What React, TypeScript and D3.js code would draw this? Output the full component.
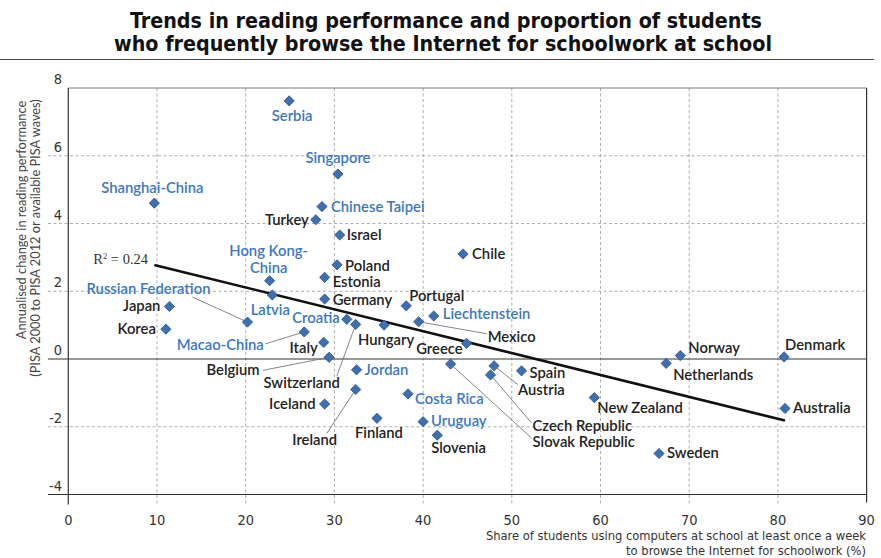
import { useMemo } from 'react';
import * as d3 from 'd3';

// Share of students browsing the Internet for schoolwork at school (%), and
// annualised change in reading performance (score points per year)
const countries = [
  'Serbia', 'Singapore', 'Shanghai-China', 'Chinese Taipei', 'Turkey', 'Israel', 'Poland',
  'Hong Kong-China', 'Estonia', 'Latvia', 'Germany', 'Portugal', 'Liechtenstein', 'Chile',
  'Russian Federation', 'Japan', 'Korea', 'Macao-China', 'Croatia', 'Italy', 'Belgium',
  'Switzerland', 'Hungary', 'Jordan', 'Ireland', 'Iceland', 'Costa Rica', 'Finland',
  'Uruguay', 'Slovenia', 'Greece', 'Mexico', 'Slovak Republic', 'Austria', 'Czech Republic',
  'Spain', 'New Zealand', 'Netherlands', 'Norway', 'Denmark', 'Australia', 'Sweden'
];
const shareBrowsing = [
  24.9, 30.4, 9.7, 28.6, 27.9, 30.6, 30.3,
  22.7, 28.9, 23.0, 28.9, 38.1, 41.2, 44.5,
  20.2, 11.4, 11.0, 26.6, 31.4, 28.8, 29.4,
  32.4, 35.6, 32.5, 32.4, 28.9, 38.3, 34.8,
  40.0, 41.6, 44.9, 39.5, 43.1, 48.0, 47.6,
  51.1, 59.3, 67.4, 69.0, 80.7, 80.8, 66.6
];
const readingChange = [
  7.62, 5.46, 4.60, 4.50, 4.11, 3.66, 2.78,
  2.31, 2.41, 1.89, 1.77, 1.57, 1.27, 3.10,
  1.09, 1.55, 0.88, 0.80, 1.17, 0.49, 0.05,
  1.02, 1.00, -0.32, -0.90, -1.33, -1.03, -1.75,
  -1.85, -2.25, 0.46, 1.10, -0.15, -0.20, -0.47,
  -0.35, -1.14, -0.13, 0.10, 0.06, -1.46, -2.79
];
const partners = [
  'Serbia', 'Singapore', 'Shanghai-China', 'Chinese Taipei', 'Hong Kong-China', 'Latvia',
  'Liechtenstein', 'Russian Federation', 'Macao-China', 'Croatia', 'Jordan', 'Costa Rica', 'Uruguay'
];
const xTicks = [0, 10, 20, 30, 40, 50, 60, 70, 80, 90];
const yTicks = [-4, -2, 0, 2, 4, 6, 8];
const rSquaredText = '0.24';

// label placement: offset of text from point, anchor, optional leader end (relative to point)
type LabelPos = { dx: number; dy: number; anchor: string; leader?: [number, number]; lines?: string[] };
const labelPos: Record<string, LabelPos> = {
  'Serbia': { dx: 3, dy: 20, anchor: 'middle' },
  'Singapore': { dx: 0, dy: -11, anchor: 'middle' },
  'Shanghai-China': { dx: -2, dy: -10, anchor: 'middle' },
  'Chinese Taipei': { dx: 9, dy: 5, anchor: 'start' },
  'Turkey': { dx: -7, dy: 5, anchor: 'end' },
  'Israel': { dx: 7, dy: 5, anchor: 'start' },
  'Poland': { dx: 8, dy: 6, anchor: 'start' },
  'Hong Kong-China': { dx: -1, dy: -25, anchor: 'middle', lines: ['Hong Kong-', 'China'] },
  'Estonia': { dx: 8, dy: 10, anchor: 'start' },
  'Latvia': { dx: -2, dy: 20, anchor: 'middle' },
  'Germany': { dx: 8, dy: 6, anchor: 'start' },
  'Portugal': { dx: 3, dy: -5, anchor: 'start' },
  'Liechtenstein': { dx: 9, dy: 3, anchor: 'start' },
  'Chile': { dx: 9, dy: 5, anchor: 'start' },
  'Russian Federation': { dx: -99, dy: -28, anchor: 'middle', leader: [-55, -25] },
  'Japan': { dx: -9, dy: 5, anchor: 'end' },
  'Korea': { dx: -10, dy: 5, anchor: 'end' },
  'Macao-China': { dx: -84, dy: 18, anchor: 'middle', leader: [-39, 12] },
  'Croatia': { dx: -7, dy: 4, anchor: 'end' },
  'Italy': { dx: -6, dy: 11, anchor: 'end' },
  'Belgium': { dx: -96, dy: 18, anchor: 'middle', leader: [-66, 13] },
  'Switzerland': { dx: -54, dy: 64, anchor: 'middle', leader: [-19, 52] },
  'Hungary': { dx: 2, dy: 20, anchor: 'middle' },
  'Jordan': { dx: 8, dy: 5, anchor: 'start' },
  'Ireland': { dx: -41, dy: 56, anchor: 'middle', leader: [-29, 44] },
  'Iceland': { dx: -9, dy: 5, anchor: 'end' },
  'Costa Rica': { dx: 7, dy: 10, anchor: 'start' },
  'Finland': { dx: 2, dy: 20, anchor: 'middle' },
  'Uruguay': { dx: 8, dy: 4, anchor: 'start' },
  'Slovenia': { dx: -6, dy: 18, anchor: 'start' },
  'Greece': { dx: -4, dy: 11, anchor: 'end' },
  'Mexico': { dx: 69, dy: 20, anchor: 'start', leader: [68, 12] },
  'Slovak Republic': { dx: 82, dy: 83, anchor: 'start', leader: [81, 74] },
  'Austria': { dx: 24, dy: 29, anchor: 'start', leader: [24, 19] },
  'Czech Republic': { dx: 42, dy: 56, anchor: 'start', leader: [41, 48] },
  'Spain': { dx: 8, dy: 7, anchor: 'start' },
  'New Zealand': { dx: 3, dy: 15, anchor: 'start' },
  'Netherlands': { dx: 7, dy: 17, anchor: 'start' },
  'Norway': { dx: 8, dy: -3, anchor: 'start' },
  'Denmark': { dx: 1, dy: -7, anchor: 'start' },
  'Australia': { dx: 8, dy: 5, anchor: 'start' },
  'Sweden': { dx: 8, dy: 4, anchor: 'start' },
};

const W = 881;
const H = 558;
const BLUE = '#3b78c0';
const DARK = '#222';
const LABEL_FONT = "Lato, 'Open Sans', sans-serif";
const NARROW = "'Liberation Sans Narrow', 'DejaVu Sans Condensed', sans-serif";

export default function App() {
  const x = d3.scaleLinear().domain([0, 90]).range([68.3, 866.6]);
  const y = d3.scaleLinear().domain([-4, 8]).range([494.5, 88]);

  const points = countries.map((name, i) => ({
    name,
    x: shareBrowsing[i],
    y: readingChange[i],
    partner: partners.includes(name),
  }));

  // least squares trend
  const trend = useMemo(() => {
    const mx = d3.mean(shareBrowsing)!;
    const my = d3.mean(readingChange)!;
    let sxy = 0;
    let sxx = 0;
    shareBrowsing.forEach((v, i) => {
      sxy += (v - mx) * (readingChange[i] - my);
      sxx += (v - mx) * (v - mx);
    });
    const b = sxy / sxx;
    const a = my - b * mx;
    const [x0, x1] = d3.extent(shareBrowsing) as [number, number];
    return [[x0, a + b * x0], [x1, a + b * x1]];
  }, []);

  const diamond = d3.symbol().type(d3.symbolSquare).size(52)()!;
  const left = x(0);
  const right = x(90);
  const top = y(8);
  const bottom = y(-4);

  return (
    <svg width={W} height={H} style={{ position: 'absolute', left: 0, top: 0, background: '#fff' }}>
      {/* title */}
      <g fontFamily={NARROW} fontWeight="bold" fontSize={21.3} fill="#111" textAnchor="middle">
        <text x={446} y={28}>Trends in reading performance and proportion of students</text>
        <text x={443} y={51}>who frequently browse the Internet for schoolwork at school</text>
      </g>
      <line x1={0} x2={874} y1={59.5} y2={59.5} stroke="#444" strokeWidth={1} />

      {/* grid */}
      {yTicks.filter(t => t !== 0 && t !== 8 && t !== -4).map(t => (
        <line key={'gy' + t} x1={48} x2={right} y1={y(t)} y2={y(t)}
          stroke="#999" strokeWidth={0.8} strokeDasharray="3,2.5" />
      ))}
      {xTicks.filter(t => t !== 0 && t !== 90).map(t => (
        <line key={'gx' + t} x1={x(t)} x2={x(t)} y1={top} y2={bottom + 10}
          stroke="#999" strokeWidth={0.8} strokeDasharray="3,2.5" />
      ))}
      <line x1={left} x2={right} y1={top} y2={top} stroke="#777" strokeWidth={1} />
      <line x1={48} x2={right} y1={y(0)} y2={y(0)} stroke="#333" strokeWidth={1.2} />
      <line x1={48} x2={right} y1={bottom} y2={bottom} stroke="#333" strokeWidth={1.2} />
      <line x1={left} x2={left} y1={top} y2={bottom + 10} stroke="#333" strokeWidth={1.2} />
      <line x1={right} x2={right} y1={top} y2={bottom + 8} stroke="#333" strokeWidth={1.2} />

      {/* y ticks */}
      <g fontFamily={NARROW} fontSize={14.5} fill="#333" textAnchor="end">
        {yTicks.map(t => (
          <text key={'ty' + t} x={62} y={y(t) - 4}>{t}</text>
        ))}
      </g>
      {/* x ticks */}
      <g fontFamily={NARROW} fontSize={14.5} fill="#333" textAnchor="middle">
        {xTicks.map(t => (
          <text key={'tx' + t} x={x(t)} y={525}>{t}</text>
        ))}
      </g>

      {/* axis titles */}
      <g fontFamily={LABEL_FONT} fontSize={12.8} fill="#444" textAnchor="middle">
        <text transform="translate(26,220) rotate(-90)">Annualised change in reading performance</text>
        <text transform="translate(40,238) rotate(-90)">(PISA 2000 to PISA 2012 or available PISA waves)</text>
      </g>
      <g fontFamily={NARROW} fontSize={12.8} fill="#333" textAnchor="end">
        <text x={866} y={540}>Share of students using computers at school at least once a week</text>
        <text x={866} y={555}>to browse the Internet for schoolwork (%)</text>
      </g>

      {/* trend line */}
      <line x1={x(trend[0][0])} y1={y(trend[0][1])} x2={x(trend[1][0])} y2={y(trend[1][1])}
        stroke="#111" strokeWidth={2.6} />
      <text x={148} y={y(trend[0][1]) - 1} textAnchor="end" fontFamily="'Liberation Serif', serif"
        fontSize={14.5} fill="#333">
        R<tspan dy={-5} fontSize={8.5}>2</tspan><tspan dy={5}> = {rSquaredText}</tspan>
      </text>

      {/* leaders */}
      {points.map(p => {
        const lp = labelPos[p.name];
        if (!lp || !lp.leader) return null;
        return (
          <line key={'ld' + p.name} x1={x(p.x)} y1={y(p.y)}
            x2={x(p.x) + lp.leader[0]} y2={y(p.y) + lp.leader[1]}
            stroke="#777" strokeWidth={0.9} />
        );
      })}

      {/* points */}
      {points.map(p => (
        <path key={'pt' + p.name} d={diamond}
          transform={`translate(${x(p.x)},${y(p.y)}) rotate(45)`}
          fill="#3e6fb2" stroke="#27548f" strokeWidth={0.8} />
      ))}

      {/* labels */}
      <g fontFamily={LABEL_FONT} fontSize={14.8} fontWeight={600}>
        {points.map(p => {
          const lp = labelPos[p.name];
          const fill = p.partner ? BLUE : DARK;
          const lines = lp.lines ?? [p.name];
          return (
            <text key={'lb' + p.name} x={x(p.x) + lp.dx} y={y(p.y) + lp.dy}
              textAnchor={lp.anchor} fill={fill}>
              {lines.map((l, i) => (
                <tspan key={i} x={x(p.x) + lp.dx} dy={i === 0 ? 0 : 17}>{l}</tspan>
              ))}
            </text>
          );
        })}
      </g>
    </svg>
  );
}
